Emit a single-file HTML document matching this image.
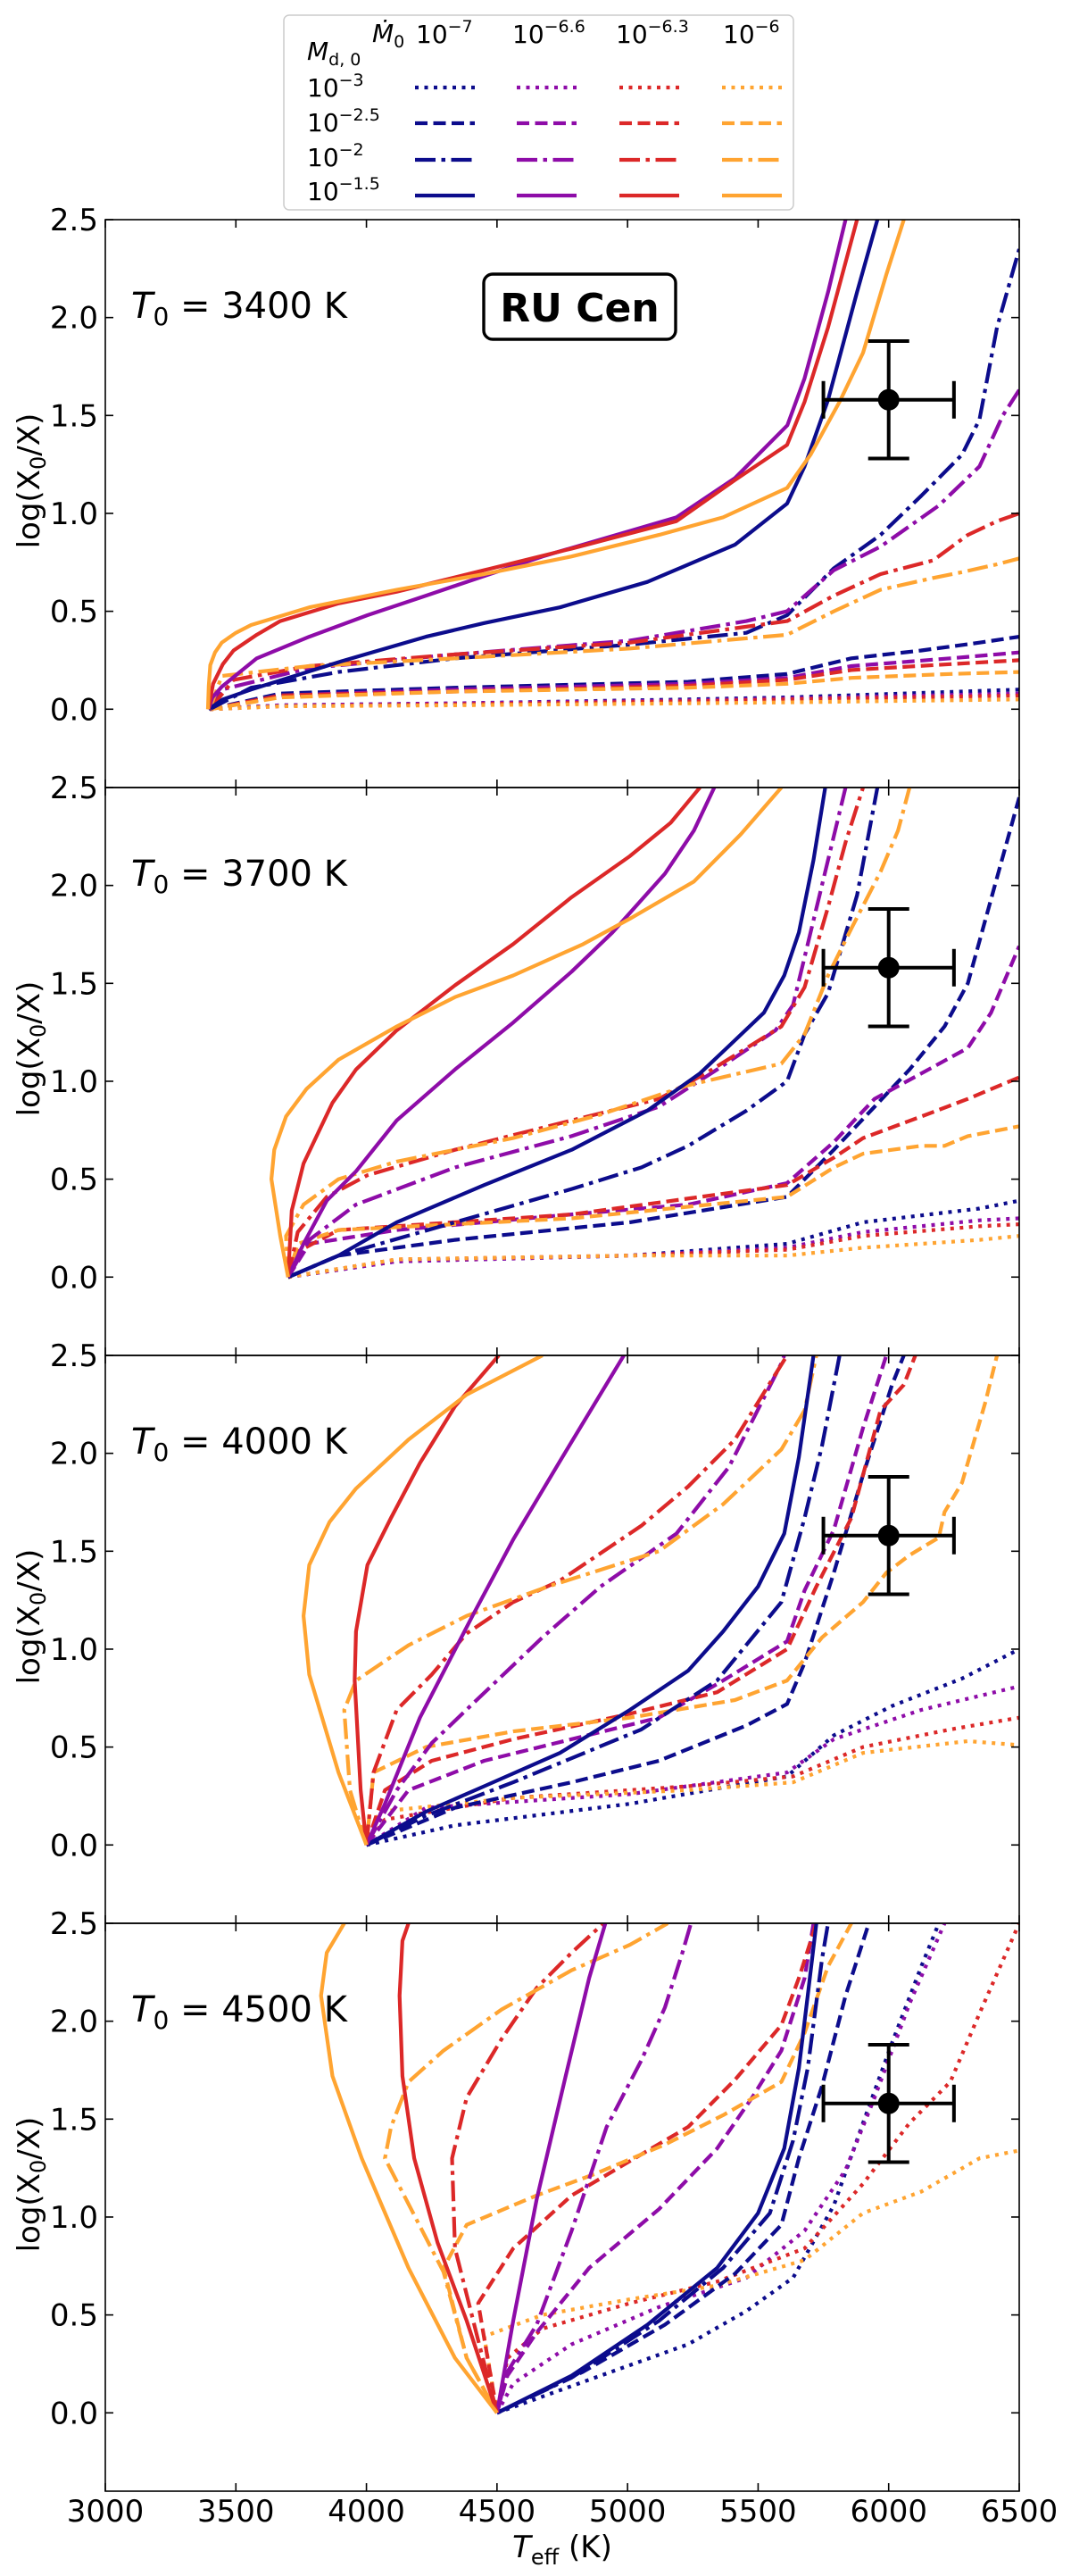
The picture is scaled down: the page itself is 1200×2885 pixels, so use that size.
<!DOCTYPE html>
<html><head><meta charset="utf-8"><title>RU Cen tracks</title>
<style>
html,body{margin:0;padding:0;background:#fff;}
svg{display:block;font-family:"DejaVu Sans","Liberation Sans",sans-serif;}
</style></head>
<body>
<svg id="fig" xmlns="http://www.w3.org/2000/svg" width="1200" height="2885" viewBox="0 0 1200 2885">
<rect x="0" y="0" width="1200" height="2885" fill="#fff"/>
<g id="legend">
  <rect x="318" y="17" width="571" height="218" rx="6" fill="#fff" stroke="#cccccc" stroke-width="1.5"/>
  <text x="417" y="47" font-size="28" font-style="italic">Ṁ<tspan font-size="19" font-style="normal" dy="6">0</tspan></text>
  <text x="344" y="67" font-size="28" font-style="italic">M<tspan font-size="19" font-style="normal" dy="6">d, 0</tspan></text>
  <text x="466" y="48" font-size="28">10<tspan font-size="19" dy="-12">−7</tspan></text>
  <text x="574" y="48" font-size="28">10<tspan font-size="19" dy="-12">−6.6</tspan></text>
  <text x="690" y="48" font-size="28">10<tspan font-size="19" dy="-12">−6.3</tspan></text>
  <text x="810" y="48" font-size="28">10<tspan font-size="19" dy="-12">−6</tspan></text>
  <text x="344" y="108" font-size="28">10<tspan font-size="19" dy="-12">−3</tspan></text>
  <text x="344" y="147" font-size="28">10<tspan font-size="19" dy="-12">−2.5</tspan></text>
  <text x="344" y="186" font-size="28">10<tspan font-size="19" dy="-12">−2</tspan></text>
  <text x="344" y="224" font-size="28">10<tspan font-size="19" dy="-12">−1.5</tspan></text>
  <g id="legendLines"></g>
</g>
<g id="panels"></g>
<text x="30" y="0" font-size="34" text-anchor="middle" id="xtitle"><tspan font-style="italic">T</tspan><tspan font-size="24" dy="8">eff</tspan><tspan dy="-8"> (K)</tspan></text>
</svg>
<script>
// ---------- data (log(X0/X) vs Teff) ----------
const panelT0 = [3400, 3700, 4000, 4500];
const xTicks = [3000, 3500, 4000, 4500, 5000, 5500, 6000, 6500];
const yTicks = [0.0, 0.5, 1.0, 1.5, 2.0, 2.5];
const colorNames = ["navy", "purple", "red", "orange"];
const styleNames = ["dotted", "dashed", "dashdot", "solid"];
const obsPoint = [6000, 1.58];
const obsErr = [250, 0.3];

// Panel 1: T0 = 3400 K
const p1_navy_dotted = [[3400,0],[3670,0.02],[4339,0.03],[5232,0.05],[5611,0.06],[6500,0.10]];
const p1_purple_dotted = [[3400,0],[3670,0.02],[4339,0.03],[5232,0.045],[5611,0.055],[6500,0.08]];
const p1_red_dotted = [[3400,0],[3670,0.015],[4339,0.025],[5232,0.04],[5611,0.05],[6500,0.07]];
const p1_orange_dotted = [[3400,0],[3670,0.015],[4339,0.02],[5232,0.03],[5611,0.035],[6500,0.05]];
const p1_navy_dashed = [[3400,0],[3670,0.08],[4339,0.11],[5232,0.14],[5611,0.18],[5857,0.26],[6125,0.30],[6348,0.34],[6500,0.37]];
const p1_purple_dashed = [[3400,0],[3670,0.07],[4339,0.10],[5232,0.13],[5611,0.16],[5857,0.22],[6236,0.26],[6500,0.29]];
const p1_red_dashed = [[3400,0],[3670,0.07],[4339,0.09],[5232,0.12],[5611,0.15],[5857,0.20],[6236,0.23],[6500,0.25]];
const p1_orange_dashed = [[3400,0],[3670,0.06],[4339,0.09],[5232,0.11],[5611,0.13],[5857,0.16],[6236,0.18],[6500,0.19]];
const p1_navy_dashdot = [[3400,0],[3558,0.11],[3893,0.19],[4339,0.26],[5009,0.33],[5455,0.39],[5611,0.48],[5790,0.72],[5969,0.89],[6125,1.09],[6281,1.30],[6348,1.48],[6415,1.95],[6500,2.35]];
const p1_purple_dashdot = [[3400,0],[3446,0.10],[3781,0.21],[4339,0.28],[5009,0.35],[5455,0.45],[5611,0.50],[5790,0.71],[5969,0.83],[6192,1.04],[6348,1.24],[6437,1.50],[6500,1.63]];
const p1_red_dashdot = [[3400,0],[3491,0.15],[3781,0.22],[4339,0.28],[5009,0.34],[5611,0.45],[5790,0.58],[5969,0.69],[6170,0.76],[6303,0.89],[6415,0.96],[6500,1.0]];
const p1_orange_dashdot = [[3400,0],[3446,0.17],[3781,0.22],[4339,0.26],[5009,0.31],[5611,0.38],[5790,0.50],[5969,0.61],[6170,0.67],[6281,0.70],[6415,0.74],[6500,0.77]];
const p1_navy_solid = [[3395,0],[3450,0.05],[3558,0.10],[3893,0.24],[4228,0.37],[4451,0.44],[4741,0.52],[5076,0.65],[5411,0.84],[5611,1.05],[5678,1.24],[5768,1.58],[5879,2.13],[5957,2.5]];
const p1_purple_solid = [[3395,0],[3410,0.06],[3446,0.115],[3580,0.26],[3781,0.37],[4004,0.48],[4228,0.58],[4451,0.68],[4674,0.78],[5009,0.91],[5187,0.98],[5411,1.18],[5612,1.45],[5678,1.69],[5768,2.13],[5835,2.5]];
const p1_red_solid = [[3395,0],[3403,0.06],[3413,0.13],[3450,0.23],[3491,0.30],[3580,0.38],[3670,0.45],[3893,0.54],[4116,0.60],[4451,0.71],[4786,0.82],[5187,0.96],[5411,1.17],[5611,1.35],[5678,1.57],[5768,1.95],[5879,2.5]];
const p1_orange_solid = [[3393,0],[3396,0.12],[3402,0.225],[3420,0.29],[3446,0.34],[3500,0.39],[3558,0.43],[3781,0.52],[4116,0.61],[4451,0.69],[4786,0.78],[5120,0.89],[5366,0.98],[5611,1.13],[5701,1.30],[5812,1.57],[5902,1.82],[5991,2.22],[6058,2.5]];

// Panel 2: T0 = 3700 K
const p2_navy_dotted = [[3700,0],[4116,0.08],[5009,0.11],[5611,0.17],[5902,0.28],[6348,0.35],[6500,0.39]];
const p2_purple_dotted = [[3700,0],[4116,0.08],[5009,0.11],[5611,0.15],[5902,0.23],[6348,0.29],[6500,0.30]];
const p2_red_dotted = [[3700,0],[4116,0.09],[5009,0.11],[5611,0.14],[5902,0.21],[6348,0.26],[6500,0.27]];
const p2_orange_dotted = [[3700,0],[4116,0.09],[5009,0.11],[5611,0.11],[5902,0.15],[6348,0.19],[6500,0.21]];
const p2_navy_dashed = [[3700,0],[3893,0.11],[4339,0.19],[5009,0.28],[5611,0.41],[5790,0.65],[5946,0.87],[6080,1.06],[6214,1.28],[6303,1.50],[6415,2.04],[6500,2.45]];
const p2_purple_dashed = [[3700,0],[3781,0.17],[4116,0.24],[4786,0.32],[5232,0.37],[5611,0.48],[5790,0.69],[5946,0.91],[6125,1.04],[6303,1.17],[6392,1.35],[6500,1.69]];
const p2_red_dashed = [[3700,0],[3737,0.13],[3893,0.24],[4786,0.32],[5611,0.47],[5790,0.61],[5902,0.71],[6125,0.82],[6303,0.91],[6500,1.02]];
const p2_orange_dashed = [[3700,0],[3737,0.17],[3893,0.24],[4786,0.30],[5611,0.41],[5790,0.56],[5902,0.63],[6125,0.67],[6214,0.67],[6303,0.72],[6500,0.77]];
const p2_navy_dashdot = [[3700,0],[3893,0.11],[4339,0.28],[4786,0.45],[5053,0.56],[5232,0.67],[5455,0.85],[5611,1.0],[5678,1.24],[5768,1.45],[5879,1.95],[5957,2.5]];
const p2_purple_dashdot = [[3700,0],[3781,0.19],[3960,0.37],[4339,0.56],[4786,0.72],[5120,0.87],[5343,1.06],[5567,1.26],[5634,1.39],[5701,1.76],[5768,2.13],[5835,2.5]];
const p2_red_dashdot = [[3700,0],[3737,0.23],[3848,0.41],[4004,0.52],[4339,0.65],[4786,0.80],[5120,0.91],[5299,1.04],[5589,1.28],[5678,1.48],[5768,1.89],[5835,2.22],[5902,2.5]];
const p2_orange_dashdot = [[3700,0],[3692,0.21],[3759,0.37],[3893,0.50],[4116,0.59],[4562,0.71],[4897,0.83],[5232,0.98],[5589,1.09],[5678,1.24],[5768,1.54],[5857,1.78],[5969,2.07],[6036,2.28],[6080,2.5]];
const p2_navy_solid = [[3700,0],[3893,0.11],[4116,0.28],[4451,0.47],[4786,0.65],[5076,0.85],[5277,1.04],[5388,1.18],[5522,1.35],[5600,1.54],[5656,1.76],[5712,2.13],[5757,2.5]];
const p2_purple_solid = [[3700,0],[3759,0.17],[3848,0.39],[3960,0.54],[4116,0.80],[4339,1.06],[4562,1.30],[4786,1.56],[4942,1.76],[5143,2.06],[5254,2.28],[5332,2.5]];
const p2_red_solid = [[3700,0],[3714,0.34],[3759,0.58],[3870,0.89],[3960,1.06],[4116,1.26],[4339,1.49],[4562,1.70],[4786,1.94],[5009,2.15],[5165,2.32],[5277,2.5]];
const p2_orange_solid = [[3700,0],[3670,0.21],[3636,0.50],[3647,0.65],[3692,0.82],[3770,0.96],[3893,1.11],[4116,1.28],[4339,1.43],[4562,1.54],[4830,1.70],[5009,1.83],[5254,2.02],[5433,2.26],[5589,2.5]];

// Panel 3: T0 = 4000 K
const p3_navy_dotted = [[4000,0],[4339,0.10],[5009,0.21],[5611,0.35],[5790,0.56],[6013,0.71],[6281,0.85],[6500,1.0]];
const p3_purple_dotted = [[4000,0],[4228,0.19],[5009,0.26],[5611,0.37],[5790,0.54],[6125,0.69],[6500,0.81]];
const p3_red_dotted = [[4000,0],[4071,0.13],[4562,0.24],[5232,0.30],[5634,0.35],[5902,0.50],[6236,0.59],[6500,0.65]];
const p3_orange_dotted = [[4000,0],[4049,0.17],[4562,0.24],[5232,0.28],[5634,0.32],[5902,0.47],[6303,0.53],[6500,0.51]];
const p3_navy_dashed = [[4000,0],[4339,0.19],[4786,0.32],[5120,0.43],[5455,0.61],[5611,0.72],[5678,0.93],[5790,1.39],[5902,1.89],[6013,2.35],[6058,2.5]];
const p3_purple_dashed = [[4000,0],[4161,0.28],[4451,0.43],[4786,0.54],[5120,0.65],[5366,0.84],[5611,1.04],[5678,1.30],[5790,1.61],[5902,2.13],[5991,2.5]];
const p3_red_dashed = [[4000,0],[4071,0.28],[4250,0.43],[4562,0.54],[5009,0.67],[5343,0.78],[5611,1.0],[5723,1.32],[5857,1.67],[5969,2.22],[6058,2.35],[6102,2.5]];
const p3_orange_dashed = [[4000,0],[4027,0.37],[4228,0.50],[4562,0.58],[5009,0.65],[5411,0.74],[5611,0.84],[5745,1.06],[5902,1.24],[5991,1.39],[6080,1.48],[6192,1.57],[6214,1.70],[6281,1.85],[6370,2.26],[6415,2.5]];
const p3_navy_dashdot = [[4000,0],[4228,0.15],[4562,0.32],[4853,0.48],[5053,0.59],[5343,0.84],[5589,1.24],[5678,1.67],[5745,2.04],[5812,2.5]];
const p3_purple_dashdot = [[4000,0],[4116,0.28],[4250,0.52],[4406,0.72],[4674,1.06],[4897,1.32],[5187,1.59],[5388,1.93],[5589,2.46],[5600,2.5]];
const p3_red_dashdot = [[4000,0],[4027,0.37],[4116,0.69],[4250,0.87],[4384,1.08],[4562,1.24],[4741,1.35],[5053,1.63],[5232,1.83],[5411,2.07],[5611,2.5]];
const p3_orange_dashdot = [[4000,0],[3937,0.28],[3915,0.69],[3960,0.84],[4161,1.02],[4384,1.17],[4696,1.32],[5120,1.50],[5366,1.74],[5589,2.02],[5678,2.22],[5723,2.5]];
const p3_navy_solid = [[4000,0],[4228,0.17],[4451,0.30],[4741,0.47],[5009,0.69],[5232,0.89],[5366,1.09],[5500,1.32],[5600,1.59],[5656,1.98],[5712,2.5]];
const p3_purple_solid = [[4000,0],[4071,0.21],[4205,0.65],[4406,1.17],[4562,1.56],[4741,1.96],[4986,2.5]];
const p3_red_solid = [[4000,0],[3978,0.28],[3955,0.84],[3960,1.09],[4004,1.43],[4094,1.67],[4205,1.95],[4339,2.24],[4507,2.5]];
const p3_orange_solid = [[4000,0],[3893,0.37],[3781,0.87],[3759,1.17],[3781,1.43],[3859,1.65],[3960,1.82],[4161,2.07],[4384,2.30],[4674,2.5]];

// Panel 4: T0 = 4500 K
const p4_navy_dotted = [[4500,0],[4897,0.19],[5232,0.35],[5455,0.52],[5634,0.69],[5790,1.06],[5902,1.48],[6013,1.89],[6125,2.28],[6192,2.5]];
const p4_purple_dotted = [[4500,0],[4562,0.15],[4786,0.35],[5120,0.54],[5455,0.69],[5678,0.93],[5835,1.24],[5946,1.61],[6080,2.09],[6214,2.5]];
const p4_red_dotted = [[4500,0],[4540,0.28],[4674,0.43],[5009,0.56],[5343,0.67],[5678,0.84],[5902,1.17],[6080,1.48],[6236,1.69],[6348,2.04],[6500,2.5]];
const p4_orange_dotted = [[4500,0],[4451,0.39],[4674,0.50],[5009,0.58],[5343,0.65],[5678,0.78],[5902,1.02],[6125,1.13],[6348,1.30],[6500,1.34]];
const p4_navy_dashed = [[4500,0],[4830,0.21],[5143,0.45],[5411,0.71],[5589,0.96],[5656,1.30],[5745,1.67],[5835,2.13],[5924,2.5]];
const p4_purple_dashed = [[4500,0],[4540,0.19],[4652,0.41],[4853,0.74],[5120,1.04],[5343,1.35],[5477,1.61],[5589,1.85],[5678,2.22],[5712,2.5]];
const p4_red_dashed = [[4500,0],[4428,0.56],[4562,0.84],[4786,1.11],[5053,1.32],[5232,1.46],[5411,1.70],[5589,1.98],[5656,2.22],[5723,2.5]];
const p4_orange_dashed = [[4500,0],[4384,0.28],[4295,0.74],[4384,0.96],[4652,1.11],[4875,1.22],[5143,1.37],[5366,1.52],[5589,1.69],[5678,1.94],[5768,2.28],[5857,2.5]];
const p4_navy_dashdot = [[4500,0],[4786,0.18],[5120,0.47],[5366,0.74],[5545,1.02],[5634,1.39],[5690,1.76],[5745,2.32],[5768,2.5]];
const p4_purple_dashdot = [[4500,0],[4540,0.21],[4652,0.45],[4786,0.93],[4920,1.46],[5053,1.80],[5143,2.07],[5210,2.35],[5243,2.5]];
const p4_red_dashdot = [[4500,0],[4428,0.37],[4339,0.84],[4328,1.30],[4384,1.61],[4518,1.91],[4652,2.17],[4786,2.35],[4908,2.5]];
const p4_orange_dashdot = [[4500,0],[4384,0.28],[4295,0.72],[4071,1.30],[4094,1.46],[4161,1.69],[4295,1.85],[4518,2.06],[4786,2.26],[5009,2.39],[5154,2.5]];
const p4_navy_solid = [[4500,0],[4786,0.19],[5076,0.45],[5343,0.74],[5500,1.02],[5600,1.35],[5656,1.76],[5690,2.13],[5723,2.5]];
const p4_purple_solid = [[4500,0],[4562,0.47],[4652,1.09],[4763,1.72],[4853,2.22],[4915,2.5]];
const p4_red_solid = [[4500,0],[4384,0.47],[4272,0.87],[4183,1.30],[4138,1.72],[4127,2.13],[4138,2.41],[4161,2.5]];
const p4_orange_solid = [[4500,0],[4339,0.28],[4161,0.74],[3982,1.30],[3870,1.72],[3826,2.13],[3848,2.35],[3915,2.5]];

const panelSeries = [
  {navy_dotted:p1_navy_dotted,purple_dotted:p1_purple_dotted,red_dotted:p1_red_dotted,orange_dotted:p1_orange_dotted,
   navy_dashed:p1_navy_dashed,purple_dashed:p1_purple_dashed,red_dashed:p1_red_dashed,orange_dashed:p1_orange_dashed,
   navy_dashdot:p1_navy_dashdot,purple_dashdot:p1_purple_dashdot,red_dashdot:p1_red_dashdot,orange_dashdot:p1_orange_dashdot,
   navy_solid:p1_navy_solid,purple_solid:p1_purple_solid,red_solid:p1_red_solid,orange_solid:p1_orange_solid},
  {navy_dotted:p2_navy_dotted,purple_dotted:p2_purple_dotted,red_dotted:p2_red_dotted,orange_dotted:p2_orange_dotted,
   navy_dashed:p2_navy_dashed,purple_dashed:p2_purple_dashed,red_dashed:p2_red_dashed,orange_dashed:p2_orange_dashed,
   navy_dashdot:p2_navy_dashdot,purple_dashdot:p2_purple_dashdot,red_dashdot:p2_red_dashdot,orange_dashdot:p2_orange_dashdot,
   navy_solid:p2_navy_solid,purple_solid:p2_purple_solid,red_solid:p2_red_solid,orange_solid:p2_orange_solid},
  {navy_dotted:p3_navy_dotted,purple_dotted:p3_purple_dotted,red_dotted:p3_red_dotted,orange_dotted:p3_orange_dotted,
   navy_dashed:p3_navy_dashed,purple_dashed:p3_purple_dashed,red_dashed:p3_red_dashed,orange_dashed:p3_orange_dashed,
   navy_dashdot:p3_navy_dashdot,purple_dashdot:p3_purple_dashdot,red_dashdot:p3_red_dashdot,orange_dashdot:p3_orange_dashdot,
   navy_solid:p3_navy_solid,purple_solid:p3_purple_solid,red_solid:p3_red_solid,orange_solid:p3_orange_solid},
  {navy_dotted:p4_navy_dotted,purple_dotted:p4_purple_dotted,red_dotted:p4_red_dotted,orange_dotted:p4_orange_dotted,
   navy_dashed:p4_navy_dashed,purple_dashed:p4_purple_dashed,red_dashed:p4_red_dashed,orange_dashed:p4_orange_dashed,
   navy_dashdot:p4_navy_dashdot,purple_dashdot:p4_purple_dashdot,red_dashdot:p4_red_dashdot,orange_dashdot:p4_orange_dashdot,
   navy_solid:p4_navy_solid,purple_solid:p4_purple_solid,red_solid:p4_red_solid,orange_solid:p4_orange_solid}
];

// ---------- styling / layout ----------
const COLORS = {navy:"#0c0c8c", purple:"#8e0ca8", red:"#dc2828", orange:"#ffa431"};
const DASH = {dotted:"4,6.5", dashed:"14,6.5", dashdot:"23,6.5,4.5,6.5", solid:"none"};
const LW = 4.2;
const X0 = 118, X1 = 1142, T_MIN = 3000, T_MAX = 6500;
const TOP0 = 246, PH = 636, Y_MIN = -0.4, Y_MAX = 2.5;
const NS = "http://www.w3.org/2000/svg";

function xScale(T){ return X0 + (T - T_MIN) / (T_MAX - T_MIN) * (X1 - X0); }
function yScale(i, v){ return TOP0 + i*PH + (Y_MAX - v) / (Y_MAX - Y_MIN) * PH; }
function mk(tag, attrs){ const e = document.createElementNS(NS, tag); for (const k in attrs) e.setAttribute(k, attrs[k]); return e; }

const svg = document.getElementById('fig');
const panels = document.getElementById('panels');
const defs = mk('defs', {});
svg.insertBefore(defs, svg.firstChild);

panelT0.forEach((t0, i) => {
  const top = TOP0 + i*PH;
  const g = mk('g', {});
  
  
  panels.appendChild(g);

  const cp = mk('clipPath', {id: 'clip' + i});
  cp.appendChild(mk('rect', {x: X0, y: top, width: X1 - X0, height: PH}));
  defs.appendChild(cp);

  const lines = mk('g', {'clip-path': 'url(#clip' + i + ')'});
  
  
  g.appendChild(lines);

  styleNames.forEach(st => {
    colorNames.forEach(cn => {
      const pts = panelSeries[i][cn + '_' + st];
      const d = pts.map((p, k) => (k ? 'L' : 'M') + xScale(p[0]).toFixed(1) + ' ' + yScale(i, p[1]).toFixed(1)).join(' ');
      const path = mk('path', {d: d, fill: 'none', stroke: COLORS[cn], 'stroke-width': LW, 'stroke-linejoin': 'round'});
      if (DASH[st] !== 'none') path.setAttribute('stroke-dasharray', DASH[st]);
      
      
      lines.appendChild(path);
    });
  });

  const eb = mk('g', {stroke: '#000', 'stroke-width': 4, fill: 'none'});
  
  
  const cx = xScale(obsPoint[0]), cy = yScale(i, obsPoint[1]);
  const xl = xScale(obsPoint[0] - obsErr[0]), xr = xScale(obsPoint[0] + obsErr[0]);
  const yt = yScale(i, obsPoint[1] + obsErr[1]), yb = yScale(i, obsPoint[1] - obsErr[1]);
  eb.appendChild(mk('line', {x1: xl, y1: cy, x2: xr, y2: cy}));
  eb.appendChild(mk('line', {x1: cx, y1: yt, x2: cx, y2: yb}));
  eb.appendChild(mk('line', {x1: xl, y1: cy - 21, x2: xl, y2: cy + 21}));
  eb.appendChild(mk('line', {x1: xr, y1: cy - 21, x2: xr, y2: cy + 21}));
  eb.appendChild(mk('line', {x1: cx - 23, y1: yt, x2: cx + 23, y2: yt}));
  eb.appendChild(mk('line', {x1: cx - 23, y1: yb, x2: cx + 23, y2: yb}));
  eb.appendChild(mk('circle', {cx: cx, cy: cy, r: 12, fill: '#000', stroke: 'none'}));
  g.appendChild(eb);

  const fr = mk('rect', {x: X0, y: top, width: X1 - X0, height: PH, fill: 'none', stroke: '#000', 'stroke-width': 1.6});
  
  
  g.appendChild(fr);

  const tk = mk('g', {stroke: '#000', 'stroke-width': 1.6});
  
  
  xTicks.forEach(T => {
    const x = xScale(T);
    tk.appendChild(mk('line', {x1: x, y1: top, x2: x, y2: top + 9}));
    tk.appendChild(mk('line', {x1: x, y1: top + PH, x2: x, y2: top + PH - 9}));
  });
  yTicks.forEach(v => {
    const y = yScale(i, v);
    tk.appendChild(mk('line', {x1: X0, y1: y, x2: X0 + 9, y2: y}));
    tk.appendChild(mk('line', {x1: X1, y1: y, x2: X1 - 9, y2: y}));
    const lab = mk('text', {x: 110, y: y + 12, 'font-size': 34, 'text-anchor': 'end', stroke: 'none', fill: '#000'});
    lab.textContent = v.toFixed(1);
    
    
    tk.appendChild(lab);
  });
  g.appendChild(tk);

  const yt2 = mk('text', {x: 0, y: 0, 'font-size': 34, 'text-anchor': 'middle', transform: 'translate(44,' + (top + PH*0.46) + ') rotate(-90)'});
  yt2.innerHTML = 'log(X<tspan font-size="24" dy="7">0</tspan><tspan dy="-7">/X)</tspan>';
  
  
  g.appendChild(yt2);

  const tl = mk('text', {x: 147, y: top + 110, 'font-size': 40});
  tl.innerHTML = '<tspan font-style="italic">T</tspan><tspan font-size="28" dy="8">0</tspan><tspan dy="-8"> =  ' + t0 + ' K</tspan>';
  
  
  g.appendChild(tl);

  if (i === 0) {
    const bx = mk('g', {});
    
    
    bx.appendChild(mk('rect', {x: 542, y: 307, width: 215, height: 73, rx: 10, fill: '#fff', stroke: '#000', 'stroke-width': 3.4}));
    const tt = mk('text', {x: 649.5, y: 360, 'font-size': 44, 'font-weight': 'bold', 'text-anchor': 'middle'});
    tt.textContent = 'RU Cen';
    bx.appendChild(tt);
    g.appendChild(bx);
  }
  if (i === panelT0.length - 1) {
    xTicks.forEach(T => {
      const lab = mk('text', {x: xScale(T), y: top + PH + 34, 'font-size': 34, 'text-anchor': 'middle'});
      lab.textContent = T;
      
      
      g.appendChild(lab);
    });
  }
});

const xt = document.getElementById('xtitle');
xt.setAttribute('x', 630);
xt.setAttribute('y', TOP0 + 4*PH + 74);

const legendRowsY = [98, 138, 179, 219];
const legendColsX = [465, 579, 694, 809];
const LG = document.getElementById('legendLines');
styleNames.forEach((st, r) => {
  colorNames.forEach((cn, c) => {
    const ln = mk('line', {x1: legendColsX[c], y1: legendRowsY[r], x2: legendColsX[c] + 67, y2: legendRowsY[r], stroke: COLORS[cn], 'stroke-width': LW});
    if (DASH[st] !== 'none') ln.setAttribute('stroke-dasharray', DASH[st]);
    
    
    LG.appendChild(ln);
  });
});
</script>
</body></html>
